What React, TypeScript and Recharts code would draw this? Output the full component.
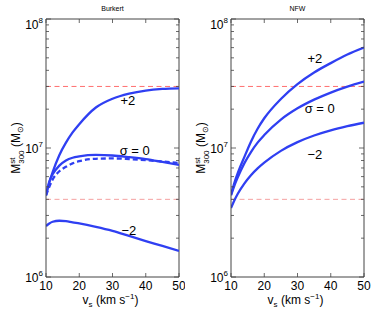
import React from 'react';
import { LineChart, Line, XAxis, YAxis, ReferenceLine, ReferenceDot } from 'recharts';

// v_s in km/s
const vs = [10, 11, 12, 14, 16, 18, 20, 25, 30, 35, 40, 45, 50];

// Burkert panel, M300 in solar masses
const burkertPlus2 = [4.3e6, 5.4e6, 6.5e6, 8.8e6, 11.0e6, 13.2e6, 15.3e6, 20.6e6, 24.1e6, 26.4e6, 27.9e6, 28.7e6, 29.0e6];
const burkertZero = [4.3e6, 5.5e6, 6.25e6, 7.3e6, 8.0e6, 8.4e6, 8.6e6, 8.83e6, 8.75e6, 8.5e6, 8.2e6, 7.8e6, 7.4e6];
const burkertZeroDashed = [4.3e6, 5.0e6, 5.7e6, 6.6e6, 7.15e6, 7.6e6, 7.9e6, 8.25e6, 8.3e6, 8.2e6, 8.05e6, 7.85e6, 7.65e6];
const burkertMinus2 = [2.48e6, 2.6e6, 2.68e6, 2.73e6, 2.71e6, 2.65e6, 2.6e6, 2.45e6, 2.28e6, 2.08e6, 1.9e6, 1.74e6, 1.59e6];

// NFW panel
const nfwPlus2 = [4.35e6, 5.35e6, 6.35e6, 8.5e6, 11.2e6, 14.1e6, 17e6, 24e6, 31.3e6, 38.5e6, 45.5e6, 53e6, 60e6];
const nfwZero = [4.3e6, 5.1e6, 5.9e6, 7.6e6, 9.3e6, 11.0e6, 12.6e6, 16.6e6, 20.3e6, 23.7e6, 26.9e6, 29.9e6, 32.7e6];
const nfwMinus2 = [3.42e6, 3.92e6, 4.4e6, 5.3e6, 6.15e6, 6.95e6, 7.7e6, 9.5e6, 11.1e6, 12.5e6, 13.7e6, 14.75e6, 15.7e6];

// horizontal dashed reference levels
const upperLevel = 3e7;
const lowerLevel = 4e6;

const xTicks = [10, 20, 30, 40, 50];
const yTicks = [
  1e6, 2e6, 3e6, 4e6, 5e6, 6e6, 7e6, 8e6, 9e6,
  1e7, 2e7, 3e7, 4e7, 5e7, 6e7, 7e7, 8e7, 9e7,
  1e8,
];

// curve labels: [x, y, text]
const burkertLabels: [number, number, string][] = [
  [34.6, 2.36e7, '+2'],
  [36.7, 9.6e6, 'σ = 0'],
  [34.9, 2.31e6, '−2'],
];
const nfwLabels: [number, number, string][] = [
  [35.2, 4.99e7, '+2'],
  [36.7, 2.04e7, 'σ = 0'],
  [35.2, 8.98e6, '−2'],
];

const FONT = '"Liberation Sans", Arial, Helvetica, sans-serif';
const BLUE = '#2f3ff2';
const AXIS = '#444';
const PLOT_W = 133;
const PLOT_H = 258;
const Y_AXIS_W = 46;
const TOP = 19;
const X_AXIS_H = 35;
const H = 312;

const YTick = (props: any) => {
  const { x, y, payload } = props;
  const v = payload.value;
  const exp = Math.round(Math.log10(v));
  const major = Math.abs(v / Math.pow(10, exp) - 1) < 1e-6;
  const len = major ? 5 : 3;
  // top label sits a little lower, as in the original
  const shift = exp === 8 ? 5 : 0;
  return (
    <g>
      <line x1={x} x2={x + len} y1={y} y2={y} stroke={AXIS} strokeWidth={0.8} />
      <line x1={x + PLOT_W} x2={x + PLOT_W - len} y1={y} y2={y} stroke={AXIS} strokeWidth={0.8} />
      {major && (
        <text x={x - 3} y={y + 4.5 + shift} textAnchor="end" fontSize={12} fill="#000" fontFamily={FONT}>
          10<tspan dy={-6} fontSize={8}>{exp}</tspan>
        </text>
      )}
    </g>
  );
};

const XTick = (props: any) => {
  const { x, y, payload } = props;
  return (
    <g>
      <line x1={x} x2={x} y1={y} y2={y - 4} stroke={AXIS} strokeWidth={0.8} />
      <line x1={x} x2={x} y1={y - PLOT_H} y2={y - PLOT_H + 4} stroke={AXIS} strokeWidth={0.8} />
      <text x={x} y={y + 12.5} textAnchor="middle" fontSize={12} fill="#000" fontFamily={FONT}>
        {payload.value}
      </text>
    </g>
  );
};

type Series = { values: number[]; dashed?: boolean };

const Panel = ({ title, width, right, series, labels }: {
  title: string; width: number; right: number; series: Series[]; labels: [number, number, string][];
}) => {
  const rows = vs.map((x, i) => {
    const row: any = { x };
    series.forEach((s, k) => { row['s' + k] = s.values[i]; });
    return row;
  });
  const cx = Y_AXIS_W + PLOT_W / 2;
  return (
    <div style={{ position: 'relative', width, height: H }}>
      <LineChart width={width} height={H} data={rows} margin={{ top: TOP, right, bottom: 0, left: 0 }}>
        <XAxis
          dataKey="x"
          type="number"
          domain={[10, 50]}
          ticks={xTicks}
          interval={0}
          allowDataOverflow
          height={X_AXIS_H}
          tickSize={0}
          tickMargin={0}
          tickLine={false}
          axisLine={{ stroke: AXIS, strokeWidth: 1 }}
          tick={<XTick />}
        />
        <YAxis
          type="number"
          scale="log"
          domain={[1e6, 1e8]}
          ticks={yTicks}
          interval={0}
          allowDataOverflow
          width={Y_AXIS_W}
          tickSize={0}
          tickMargin={0}
          tickLine={false}
          axisLine={{ stroke: AXIS, strokeWidth: 1 }}
          tick={<YTick />}
        />
        <ReferenceLine y={1e8} stroke={AXIS} strokeWidth={1} ifOverflow="visible" />
        <ReferenceLine x={50} stroke={AXIS} strokeWidth={1} ifOverflow="visible" />
        <ReferenceLine y={upperLevel} stroke="#ff6f6f" strokeWidth={1} strokeDasharray="5 3.5" />
        <ReferenceLine y={lowerLevel} stroke="#f5a0a0" strokeWidth={1} strokeDasharray="5 3.5" />
        {series.map((s, k) => (
          <Line
            key={k}
            dataKey={'s' + k}
            type="monotone"
            stroke={BLUE}
            strokeWidth={2.3}
            strokeDasharray={s.dashed ? '5 3' : undefined}
            dot={false}
            activeDot={false}
            isAnimationActive={false}
          />
        ))}
        {labels.map(([lx, ly, text], i) => (
          <ReferenceDot
            key={i}
            x={lx}
            y={ly}
            r={0}
            fill="none"
            stroke="none"
            label={{ value: text, position: 'center', fontSize: 13, fill: '#000', fontFamily: FONT }}
          />
        ))}
      </LineChart>
      <svg width={width} height={H} style={{ position: 'absolute', left: 0, top: 0, pointerEvents: 'none' }} fontFamily={FONT}>
        <text x={cx} y={10.5} textAnchor="middle" fontSize={7} fill="#000">{title}</text>
        <text x={cx - 2} y={304} textAnchor="middle" fontSize={12} fill="#000">
          v<tspan dy={3} fontSize={8}>s</tspan>
          <tspan dy={-3}> (km s</tspan>
          <tspan dy={-5} fontSize={8}>−1</tspan>
          <tspan dy={5}>)</tspan>
        </text>
        <text transform={`translate(19.5, ${TOP + PLOT_H / 2}) rotate(-90)`} textAnchor="middle" fontSize={12} fill="#000">
          M<tspan dy={-5} fontSize={8}>st</tspan>
          <tspan dx={-6.2} dy={9} fontSize={8}>300</tspan>
          <tspan dy={-4}> (M</tspan>
          <tspan dy={3} fontSize={8}>⊙</tspan>
          <tspan dy={-3}>)</tspan>
        </text>
      </svg>
    </div>
  );
};

export default function App() {
  return (
    <div style={{ position: 'absolute', left: 0, top: 0, width: 374, height: H, background: '#fff', fontFamily: FONT }}>
      <div style={{ position: 'absolute', left: 0, top: 0 }}>
        <Panel
          title="Burkert"
          width={185}
          right={6}
          series={[
            { values: burkertPlus2 },
            { values: burkertZero },
            { values: burkertZeroDashed, dashed: true },
            { values: burkertMinus2 },
          ]}
          labels={burkertLabels}
        />
      </div>
      <div style={{ position: 'absolute', left: 185, top: 0 }}>
        <Panel
          title="NFW"
          width={189}
          right={10}
          series={[{ values: nfwPlus2 }, { values: nfwZero }, { values: nfwMinus2 }]}
          labels={nfwLabels}
        />
      </div>
    </div>
  );
}
